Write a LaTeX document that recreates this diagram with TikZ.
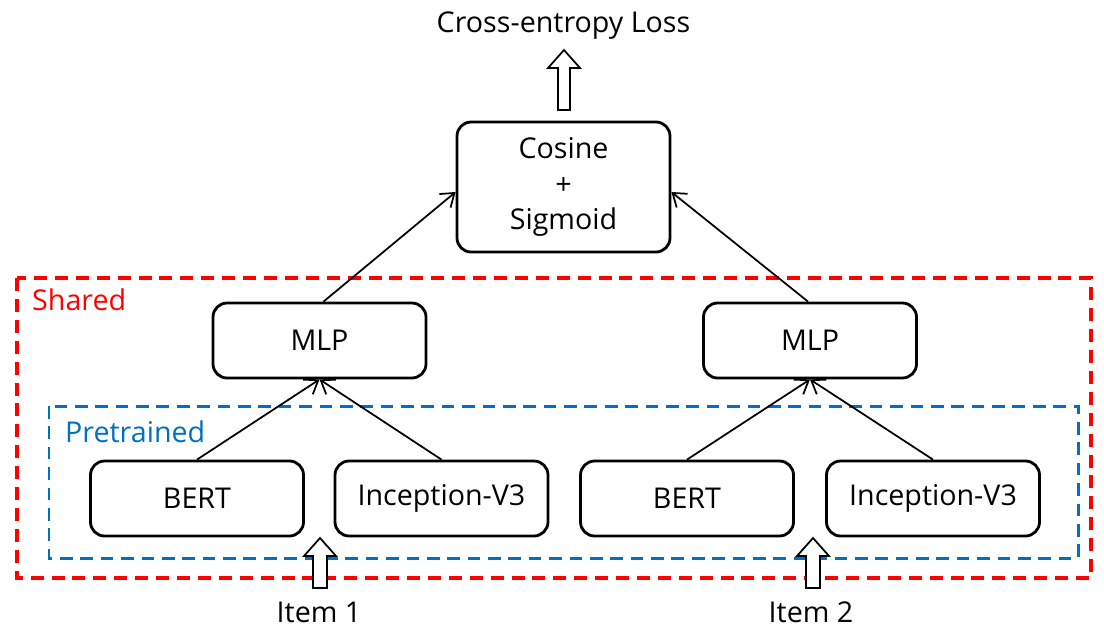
\documentclass[tikz,border=0pt]{standalone}
\usepackage{fontspec}
\setmainfont{Open Sans}
\usetikzlibrary{arrows.meta}
\definecolor{redd}{RGB}{255,0,0}
\definecolor{bluu}{RGB}{0,112,192}
\tikzset{
  blk/.style={draw=black, line width=1.6pt, rounded corners=8pt, inner sep=0pt},
  lbl/.style={font=\fontsize{16.3pt}{20pt}\selectfont},
  conn/.style={line width=1pt, -{Straight Barb[length=7pt,width=10pt,line width=1pt]}},
  hollow/.style={draw=black, line width=1pt, fill=white},
  dashred/.style={draw=redd, line width=1.9pt, dash pattern=on 7.4pt off 4.5pt},
  dashblue/.style={draw=bluu, line width=1.7pt, dash pattern=on 7.2pt off 4.4pt},
}
\begin{document}
\begin{tikzpicture}[x=0.02cm,y=-0.02cm]
\useasboundingbox (0,0) rectangle (1104,629);
% frames
\draw[dashred] (17,278) rectangle (1091,578);
\draw[dashblue] (49,406) rectangle (1078,558);
\node[lbl, text=redd, anchor=west] (shared) at (26,300) {Shared};
\node[lbl, text=bluu, anchor=west] (pre) at (59,432) {Pretrained};
% boxes
\node[blk, minimum width=213*0.02cm, minimum height=130*0.02cm, lbl, align=center] (cos) at (563.5,187) {Cosine\\+\\Sigmoid};
\node[blk, minimum width=213*0.02cm, minimum height=75*0.02cm, lbl] (mlp1) at (319.5,340.5) {MLP};
\node[blk, minimum width=213*0.02cm, minimum height=75*0.02cm, lbl] (mlp2) at (810,340.5) {MLP};
\node[blk, minimum width=213*0.02cm, minimum height=75*0.02cm, lbl] (bert1) at (197,498.5) {BERT};
\node[blk, minimum width=213*0.02cm, minimum height=75*0.02cm, lbl] (inc1) at (441.5,498.5) {Inception-V3};
\node[blk, minimum width=213*0.02cm, minimum height=75*0.02cm, lbl] (bert2) at (687,498.5) {BERT};
\node[blk, minimum width=213*0.02cm, minimum height=75*0.02cm, lbl] (inc2) at (933,498.5) {Inception-V3};
% texts
\node[lbl] (loss) at (563.5,26) {Cross-entropy Loss};
\node[lbl] (item1) at (319,612) {Item 1};
\node[lbl] (item2) at (811,612) {Item 2};
% connectors
\draw[conn] (bert1.north) -- (mlp1.south);
\draw[conn] (inc1.north) -- (mlp1.south);
\draw[conn] (bert2.north) -- (mlp2.south);
\draw[conn] (inc2.north) -- (mlp2.south);
\coordinate (cl) at ([yshift=-5*0.02cm]cos.west);
\coordinate (cr) at ([yshift=-5*0.02cm]cos.east);
\draw[conn] ([xshift=4*0.02cm]mlp1.north) -- (cl);
\draw[conn] ([xshift=-2*0.02cm]mlp2.north) -- (cr);
% hollow arrows
\draw[hollow] (558,110) -- (558,68) -- (548,68) -- (564,50) -- (580,68) -- (570,68) -- (570,110) -- cycle;
\draw[hollow] (313,588) -- (313,556) -- (304,556) -- (320,538) -- (336,556) -- (327,556) -- (327,588) -- cycle;
\draw[hollow] (806,588) -- (806,556) -- (797,556) -- (813,538) -- (829,556) -- (820,556) -- (820,588) -- cycle;
\end{tikzpicture}
\end{document}
